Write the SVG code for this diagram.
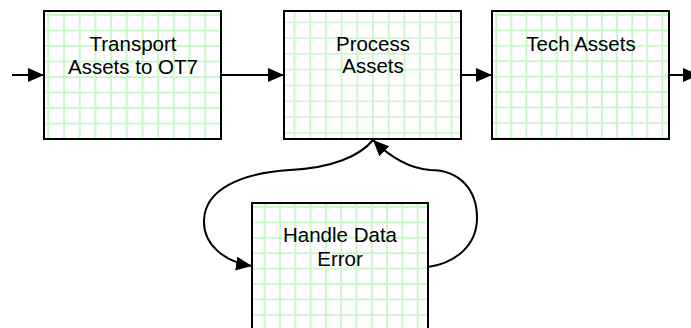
<svg xmlns="http://www.w3.org/2000/svg" width="691" height="328" viewBox="0 0 691 328">
<style>
.box{stroke:#000;stroke-width:2}
.lbl{font-family:"Liberation Sans",Arial,sans-serif;font-size:20.5px;fill:#000;text-anchor:middle}
.con{fill:none;stroke:#000;stroke-width:2}
</style>
<defs>
<pattern id="g1" patternUnits="userSpaceOnUse" x="3.3" y="3" width="15.7" height="15.5"><rect width="15.7" height="15.5" fill="#fff"/><path d="M1 0V15.5M0 1H15.7" stroke="#c6f6c6" stroke-width="1.7"/></pattern>
<pattern id="g2" patternUnits="userSpaceOnUse" x="9.5" y="10.3" width="15.7" height="15.8"><rect width="15.7" height="15.8" fill="#fff"/><path d="M1 0V15.8M0 1H15.7" stroke="#c6f6c6" stroke-width="1.7"/></pattern>
<pattern id="g3" patternUnits="userSpaceOnUse" x="3.3" y="3" width="15.1" height="15.4"><rect width="15.1" height="15.4" fill="#fff"/><path d="M1 0V15.4M0 1H15.1" stroke="#c6f6c6" stroke-width="1.7"/></pattern>
<pattern id="g4" patternUnits="userSpaceOnUse" x="11.7" y="3" width="15.3" height="15.4"><rect width="15.3" height="15.4" fill="#fff"/><path d="M1 0V15.4M0 1H15.3" stroke="#c6f6c6" stroke-width="1.7"/></pattern>
<marker id="arr" markerUnits="userSpaceOnUse" markerWidth="16" markerHeight="14" refX="16" refY="7" orient="auto" viewBox="0 0 16 14"><path d="M0 0L16 7L0 14z" fill="#000"/></marker>
</defs>
<g id="transport" transform="translate(44,11)"><rect class="box" width="177" height="128" fill="url(#g1)"/><text class="lbl" x="89" y="40">Transport</text><text class="lbl" x="89" y="62.5">Assets to OT7</text></g>
<g id="process" transform="translate(284,11)"><rect class="box" width="177" height="128" fill="url(#g2)"/><text class="lbl" x="89" y="39.5">Process</text><text class="lbl" x="89" y="62">Assets</text></g>
<g id="tech" transform="translate(492,11)"><rect class="box" width="177" height="128" fill="url(#g3)"/><text class="lbl" x="89" y="39.5">Tech Assets</text></g>
<g id="handle" transform="translate(252,203)"><rect class="box" width="176" height="128" fill="url(#g4)"/><text class="lbl" x="88" y="39">Handle Data</text><text class="lbl" x="88" y="63">Error</text></g>
<g id="connectors">
<path class="con" d="M12 75H44" marker-end="url(#arr)"/>
<path class="con" d="M221 75H284" marker-end="url(#arr)"/>
<path class="con" d="M461 75H492" marker-end="url(#arr)"/>
<path class="con" d="M669 75H699" marker-end="url(#arr)"/>
<path class="con" d="M373 140C360 156 332 168 290 170C240 173 205 190 204 220C203 245 225 262 252 266" marker-end="url(#arr)"/>
<path class="con" d="M428 267C456 263 477 245 477 218C477 190 460 170 430 170C405 168 386 153 373 140" marker-end="url(#arr)"/>
</g>
</svg>
